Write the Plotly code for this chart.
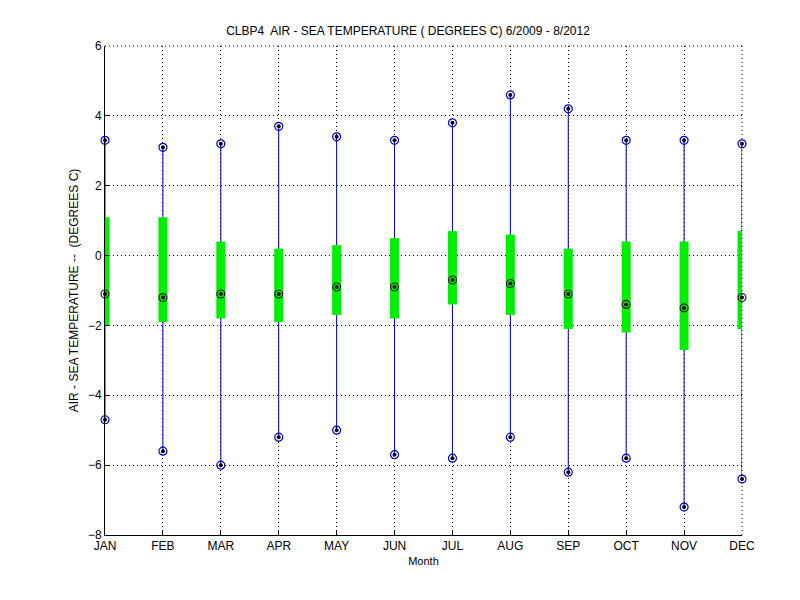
import plotly.graph_objects as go

months = ["JAN", "FEB", "MAR", "APR", "MAY", "JUN", "JUL", "AUG", "SEP", "OCT", "NOV", "DEC"]
month_num = list(range(1, 13))
max_vals = [3.3, 3.1, 3.2, 3.7, 3.4, 3.3, 3.8, 4.6, 4.2, 3.3, 3.3, 3.2]
min_vals = [-4.7, -5.6, -6.0, -5.2, -5.0, -5.7, -5.8, -5.2, -6.2, -5.8, -7.2, -6.4]
median_vals = [-1.1, -1.2, -1.1, -1.1, -0.9, -0.9, -0.7, -0.8, -1.1, -1.4, -1.5, -1.2]
q75_vals = [1.1, 1.1, 0.4, 0.2, 0.3, 0.5, 0.7, 0.6, 0.2, 0.4, 0.4, 0.7]
q25_vals = [-2.0, -1.9, -1.8, -1.9, -1.7, -1.8, -1.4, -1.7, -2.1, -2.2, -2.7, -2.1]
y_ticks = [-8, -6, -4, -2, 0, 2, 4, 6]

fig = go.Figure()

### whiskers: min to max lines
for m, lo, hi in zip(month_num, min_vals, max_vals):
    fig.add_trace(go.Scatter(x=[m, m], y=[lo, hi], mode="lines",
                             line=dict(color="#0000cc", width=1),
                             showlegend=False, hoverinfo="skip", cliponaxis=False))

### interquartile boxes (green thick bars)
for m, lo, hi in zip(month_num, q25_vals, q75_vals):
    fig.add_trace(go.Scatter(x=[m, m], y=[lo, hi], mode="lines",
                             line=dict(color="#00ee00", width=9),
                             showlegend=False, hoverinfo="skip", cliponaxis=False))

### markers at max, min (blue circles) and median (black circles)
ends_x = month_num + month_num
ends_y = max_vals + min_vals
fig.add_trace(go.Scatter(x=ends_x, y=ends_y, mode="markers", cliponaxis=False,
                         marker=dict(symbol="circle-open", size=8,
                                     color="#0000cc", line=dict(width=1.2)),
                         showlegend=False))
fig.add_trace(go.Scatter(x=month_num, y=median_vals, mode="markers", cliponaxis=False,
                         marker=dict(symbol="circle-open", size=8,
                                     color="#222222", line=dict(width=1.2)),
                         showlegend=False))
fig.add_trace(go.Scatter(x=ends_x + month_num, y=ends_y + median_vals, mode="markers",
                         cliponaxis=False,
                         marker=dict(symbol="circle", size=4, color="black"),
                         showlegend=False))

font = dict(family="Liberation Sans, Arial", size=12, color="black")
grid_dash = "1px,3px"
# the page puts the figure ~7px in from the window corner, margins allow for it
fig.update_layout(
    width=800, height=600,
    paper_bgcolor="white", plot_bgcolor="white",
    margin=dict(l=97, r=66, t=38, b=73),
    font=font,
    title=dict(text="CLBP4  AIR - SEA TEMPERATURE ( DEGREES C) 6/2009 - 8/2012",
               x=0.5, xanchor="center", y=0.962, yanchor="middle",
               font=dict(family="Liberation Sans, Arial", size=12, color="black")),
    xaxis=dict(range=[1, 12], tickmode="array", tickvals=month_num, ticktext=months,
               showgrid=True, gridcolor="black", griddash=grid_dash, gridwidth=1,
               showline=True, linecolor="black", linewidth=1, mirror=False,
               ticks="inside", ticklen=4, tickcolor="black", zeroline=False,
               automargin=False,
               title=dict(text="Month", standoff=4, font=dict(size=11))),
    yaxis=dict(range=[-8, 6], tickmode="array", tickvals=y_ticks,
               showgrid=True, gridcolor="black", griddash=grid_dash, gridwidth=1,
               showline=True, linecolor="black", linewidth=1, mirror=False,
               ticks="inside", ticklen=4, tickcolor="black", zeroline=False,
               automargin=False,
               title=dict(text="AIR - SEA TEMPERATURE --  (DEGREES C)", standoff=6,
                          font=dict(size=12))),
)

### dotted frame along top and right edges (MATLAB grid ends)
fig.add_shape(type="line", xref="paper", yref="paper", x0=0, x1=1, y0=1, y1=1,
              line=dict(color="black", width=1, dash=grid_dash))
fig.add_shape(type="line", xref="paper", yref="paper", x0=1, x1=1, y0=0, y1=1,
              line=dict(color="black", width=1, dash=grid_dash))

fig.write_html("out.html")
